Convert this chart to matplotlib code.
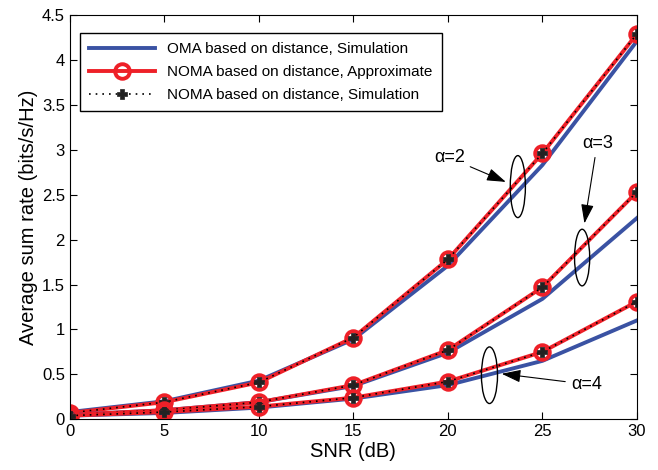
import numpy as np
import matplotlib.pyplot as plt
from matplotlib.patches import Ellipse

plt.rcParams['font.family'] = ['Liberation Sans', 'DejaVu Sans']

# SNR (dB)
snr = [0, 5, 10, 15, 20, 25, 30]

# alpha = 2
oma_a2 = [0.08, 0.20, 0.43, 0.89, 1.71, 2.83, 4.21]
noma_a2 = [0.07, 0.19, 0.41, 0.91, 1.78, 2.96, 4.29]
# alpha = 3
oma_a3 = [0.05, 0.10, 0.19, 0.37, 0.74, 1.34, 2.24]
noma_a3 = [0.05, 0.10, 0.19, 0.38, 0.77, 1.47, 2.53]
# alpha = 4
oma_a4 = [0.04, 0.07, 0.13, 0.23, 0.38, 0.65, 1.10]
noma_a4 = [0.04, 0.08, 0.14, 0.24, 0.42, 0.75, 1.31]

blue = '#3a52a3'
red = '#ee2028'

fig = plt.figure(figsize=(6.58, 4.70), dpi=100)
ax = fig.add_axes([0.106, 0.108, 0.862, 0.86])

for i, (oma, noma) in enumerate([(oma_a2, noma_a2), (oma_a3, noma_a3), (oma_a4, noma_a4)]):
    l1, = ax.plot(snr, oma, color=blue, lw=2.8)
    l2, = ax.plot(snr, noma, color=red, lw=2.8, marker='o', ms=10.5,
                  mfc='none', mec=red, mew=2.8)
    l3, = ax.plot(snr, noma, color='black', lw=1.2, ls=(0, (1, 3)),
                  marker='P', ms=7, mfc='#222222', mec='#222222', mew=0.5)
    if i == 0:
        handles = [l1, l2, l3]

ax.legend(handles, ['OMA based on distance, Simulation',
                    'NOMA based on distance, Approximate',
                    'NOMA based on distance, Simulation'],
          loc='upper left', bbox_to_anchor=(0.005, 0.975), fontsize=11,
          fancybox=False, edgecolor='black', framealpha=1,
          handlelength=4.3, borderpad=0.6, labelspacing=0.6)

# ellipses and labels
for (cx, cy, w, h) in [(23.7, 2.59, 0.8, 0.69), (27.1, 1.80, 0.8, 0.63), (22.2, 0.49, 0.85, 0.63)]:
    ax.add_patch(Ellipse((cx, cy), w, h, fill=False, ec='black', lw=1.0, zorder=5))

ap = dict(arrowstyle='-|>,head_length=0.9,head_width=0.3', color='black', lw=0.8)
ax.annotate('α=2', xy=(23.2, 2.63), xytext=(20.9, 2.91), fontsize=13,
            ha='right', va='center', arrowprops=ap)
ax.annotate('α=3', xy=(27.2, 2.15), xytext=(27.9, 3.07), fontsize=13,
            ha='center', va='center', arrowprops=ap)
ax.annotate('α=4', xy=(22.7, 0.51), xytext=(26.5, 0.39), fontsize=13,
            ha='left', va='center', arrowprops=ap)

ax.set_xlim(0, 30)
ax.set_ylim(0, 4.5)
ax.set_xticks(np.arange(0, 31, 5))
ax.set_yticks(np.arange(0, 4.51, 0.5))
ax.set_yticklabels(['0', '0.5', '1', '1.5', '2', '2.5', '3', '3.5', '4', '4.5'])
ax.tick_params(direction='in', top=True, right=True, labelsize=12, length=5)
ax.set_xlabel('SNR (dB)', fontsize=14.5, labelpad=2)
ax.set_ylabel('Average sum rate (bits/s/Hz)', fontsize=14.5, labelpad=3)

fig.savefig('out.png', dpi=100)
